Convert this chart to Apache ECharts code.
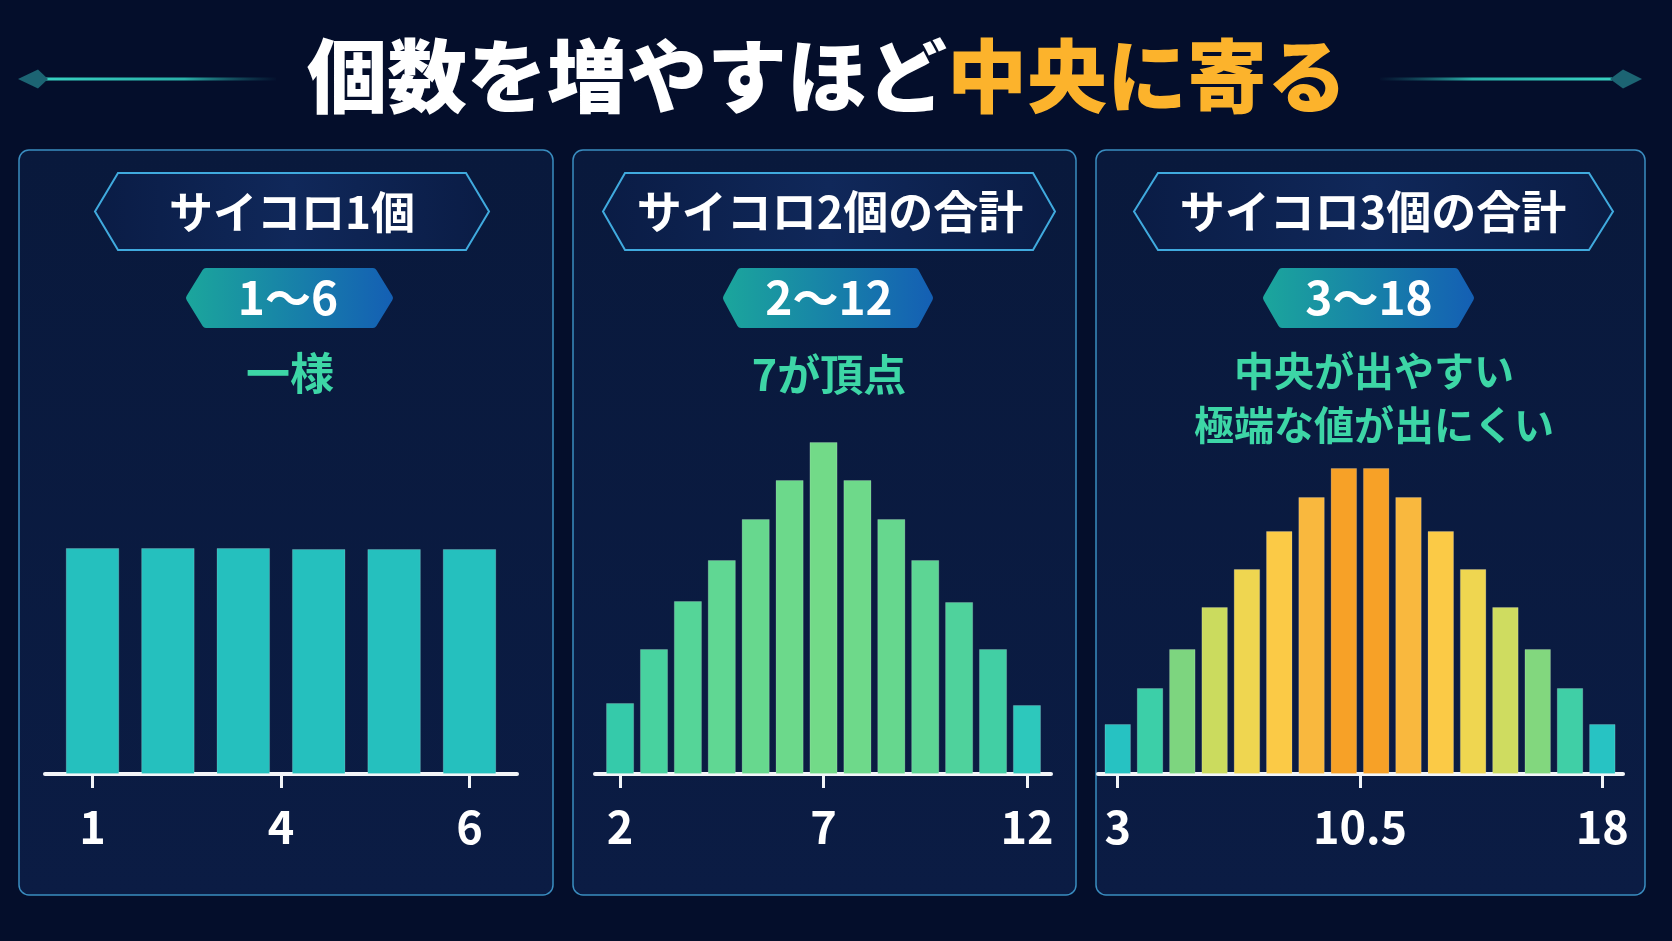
<!DOCTYPE html>
<html lang="ja">
<head>
<meta charset="utf-8">
<title>個数を増やすほど中央に寄る</title>
<script src="https://cdn.jsdelivr.net/npm/echarts@6/dist/echarts.min.js"></script>
<style>
  html, body {
    margin: 0;
    padding: 0;
    background: #040e2b;
  }
  #chart {
    width: 1672px;
    height: 941px;
  }
</style>
</head>
<body>
<div id="chart"></div>
<script>
// サイコロ1個（棒の高さ）
const p1Values = [226, 226, 226, 225, 225, 225];
const p1TickPos = [0, 2.5, 5];
const p1TickLabels = ["1", "4", "6"];

// サイコロ2個の合計
const p2Values = [71, 125, 173, 214, 255, 294, 332, 294, 255, 214, 172, 125, 69];
const p2TickPos = [0, 6, 12];
const p2TickLabels = ["2", "7", "12"];

// サイコロ3個の合計
const p3Values = [50, 86, 125, 167, 205, 243, 277, 306, 306, 277, 243, 205, 167, 125, 86, 50];
const p3TickPos = [0, 7.5, 15];
const p3TickLabels = ["3", "10.5", "18"];

// 棒の色
const p1Colors = ["#25c0be", "#25c0be", "#25c0be", "#25c0be", "#25c0be", "#25c0be"];
const p2Colors = ["#35caaa", "#48d29f", "#55d598", "#60d793", "#67d88e", "#6cd98b", "#72da88",
  "#6ed98a", "#66d78e", "#5dd594", "#4fd29c", "#42cfa4", "#2dc8bc"];
const p3Colors = ["#26c2c2", "#3ccfa8", "#7dd57f", "#cbdb5e", "#efd650", "#fbca46", "#f9b83e", "#f7a127",
  "#f7a127", "#f9b83e", "#fbca46", "#efd650", "#cfdc60", "#82d77e", "#40cfa6", "#27c3c3"];

const FONT = "'Noto Sans CJK JP', 'Noto Sans', sans-serif";
const G = echarts.graphic;

const chart = echarts.init(document.getElementById("chart"), null, { renderer: "canvas" });

// 六角形の頂点
const hexPoints = (l, r, t, b, n) => {
  const m = (t + b) / 2;
  return [[l, m], [l + n, t], [r - n, t], [r, m], [r - n, b], [l + n, b]];
};

const makeText = (text, x, y, size, fill, align, weight) => ({
  type: "text",
  z: 20,
  silent: true,
  style: {
    text: text,
    x: x,
    y: y,
    fill: fill,
    font: `${weight || "bold"} ${size}px ${FONT}`,
    textAlign: align || "center",
    textVerticalAlign: "middle",
  },
});

const panel = (l, r) => ({
  type: "rect",
  z: -20,
  silent: true,
  shape: { x: l, y: 150, width: r - l, height: 745, r: 10 },
  style: {
    fill: new G.LinearGradient(0, 0, 0, 1, [
      { offset: 0, color: "#09193c" },
      { offset: 1, color: "#0b1c44" },
    ]),
    stroke: "#3a8dc0",
    lineWidth: 1.5,
  },
});

const header = (l, r, n) => ({
  type: "polygon",
  z: -10,
  silent: true,
  shape: { points: hexPoints(l, r, 173, 250, n) },
  style: {
    fill: new G.LinearGradient(0, 0, 1, 0, [
      { offset: 0, color: "#0a1c45" },
      { offset: 0.5, color: "#10285a" },
      { offset: 1, color: "#0a1c45" },
    ]),
    stroke: "#40aade",
    lineWidth: 2,
  },
});

const badge = (l, r, n) => {
  const grad = new G.LinearGradient(0, 0, 1, 0, [
    { offset: 0, color: "#1ba69c" },
    { offset: 1, color: "#145fb4" },
  ]);
  return {
    type: "polygon",
    z: -10,
    silent: true,
    shape: { points: hexPoints(l + 4, r - 4, 272, 324, n) },
    style: { fill: grad, stroke: grad, lineWidth: 8, lineJoin: "round" },
  };
};

const sideLine = (x1, x2, fadeRight) => ({
  type: "line",
  z: 5,
  silent: true,
  shape: { x1: x1, y1: 79, x2: x2, y2: 79 },
  style: {
    stroke: new G.LinearGradient(0, 0, 1, 0, fadeRight
      ? [{ offset: 0, color: "#38d2c2" }, { offset: 0.6, color: "#2ab0a8" }, { offset: 1, color: "rgba(30,120,130,0)" }]
      : [{ offset: 0, color: "rgba(30,120,130,0)" }, { offset: 0.4, color: "#2ab0a8" }, { offset: 1, color: "#38d2c2" }]),
    lineWidth: 3,
  },
});

const diamond = (pts) => ({
  type: "polygon",
  z: 5,
  silent: true,
  shape: { points: pts },
  style: { fill: "#1c6473" },
});

const graphics = [
  panel(19, 553),
  panel(573, 1076),
  panel(1096, 1645),

  sideLine(46, 276, true),
  sideLine(1380, 1612, false),
  diamond([[18, 79], [38, 69.5], [48, 79], [38, 88.5]]),
  diamond([[1610, 79], [1623, 69.5], [1642, 79], [1623, 88.5]]),

  makeText("個数を増やすほど", 947, 76, 80, "#ffffff", "right", 900),
  makeText("中央に寄る", 947, 76, 80, "#fcb32c", "left", 900),

  header(95, 489, 23),
  header(603, 1055, 22),
  header(1134, 1613, 24),
  makeText("サイコロ1個", 292, 212, 44, "#ffffff"),
  makeText("サイコロ2個の合計", 830, 212, 45, "#ffffff"),
  makeText("サイコロ3個の合計", 1373, 212, 45, "#ffffff"),

  badge(186, 393, 16),
  badge(723, 933, 14),
  badge(1263, 1474, 15),
  makeText("1〜6", 288, 298, 46, "#ffffff"),
  makeText("2〜12", 829, 298, 46, "#ffffff"),
  makeText("3〜18", 1369, 298, 46, "#ffffff"),

  makeText("一様", 290, 373, 44, "#3dd6a6"),
  makeText("7が頂点", 829, 375, 43, "#3dd6a6"),
  makeText("中央が出やすい", 1374, 371, 40, "#3dd6a6"),
  makeText("極端な値が出にくい", 1374, 425, 40, "#3dd6a6"),
];

// 棒グラフのx軸（目盛り位置とラベルを指定）
const makeXAxis = (gridIndex, min, max, tickPos, tickLabels) => ({
  type: "value",
  gridIndex: gridIndex,
  min: min,
  max: max,
  splitLine: { show: false },
  axisLine: { show: true, lineStyle: { color: "#f2f5f8", width: 4 } },
  axisTick: {
    show: true,
    customValues: tickPos,
    length: 14,
    lineStyle: { color: "#f2f5f8", width: 3 },
  },
  axisLabel: {
    show: true,
    customValues: tickPos,
    margin: 30,
    color: "#ffffff",
    fontSize: 45,
    fontWeight: "bold",
    fontFamily: FONT,
    lineHeight: 45,
    formatter: (val) => {
      let best = 0;
      tickPos.forEach((p, i) => {
        if (Math.abs(p - val) < Math.abs(tickPos[best] - val)) best = i;
      });
      return tickLabels[best];
    },
  },
});

const makeYAxis = (gridIndex) => ({
  type: "value",
  gridIndex: gridIndex,
  min: 0,
  max: 360,
  show: false,
});

const makeSeries = (index, values, colors, width) => ({
  type: "bar",
  xAxisIndex: index,
  yAxisIndex: index,
  barWidth: width,
  z: 3,
  data: values.map((v, i) => ({
    value: [i, v],
    itemStyle: { color: colors[i], borderColor: "rgba(255,255,255,0.18)", borderWidth: 1 },
  })),
});

const option = {
  backgroundColor: "#040e2b",
  animation: false,
  grid: [
    { left: 45, top: 414, width: 472, height: 360 },
    { left: 595, top: 414, width: 456, height: 360 },
    { left: 1098, top: 414, width: 525, height: 360 },
  ],
  xAxis: [
    makeXAxis(0, -0.63, 5.63, p1TickPos, p1TickLabels),
    makeXAxis(1, -0.74, 12.71, p2TickPos, p2TickLabels),
    makeXAxis(2, -0.61, 15.64, p3TickPos, p3TickLabels),
  ],
  yAxis: [makeYAxis(0), makeYAxis(1), makeYAxis(2)],
  series: [
    makeSeries(0, p1Values, p1Colors, "71%"),
    makeSeries(1, p2Values, p2Colors, "83%"),
    makeSeries(2, p3Values, p3Colors, "82%"),
  ],
  graphic: { elements: graphics },
};

chart.setOption(option, true);

window.onresize = function () {
  chart.resize();
};
</script>
</body>
</html>
